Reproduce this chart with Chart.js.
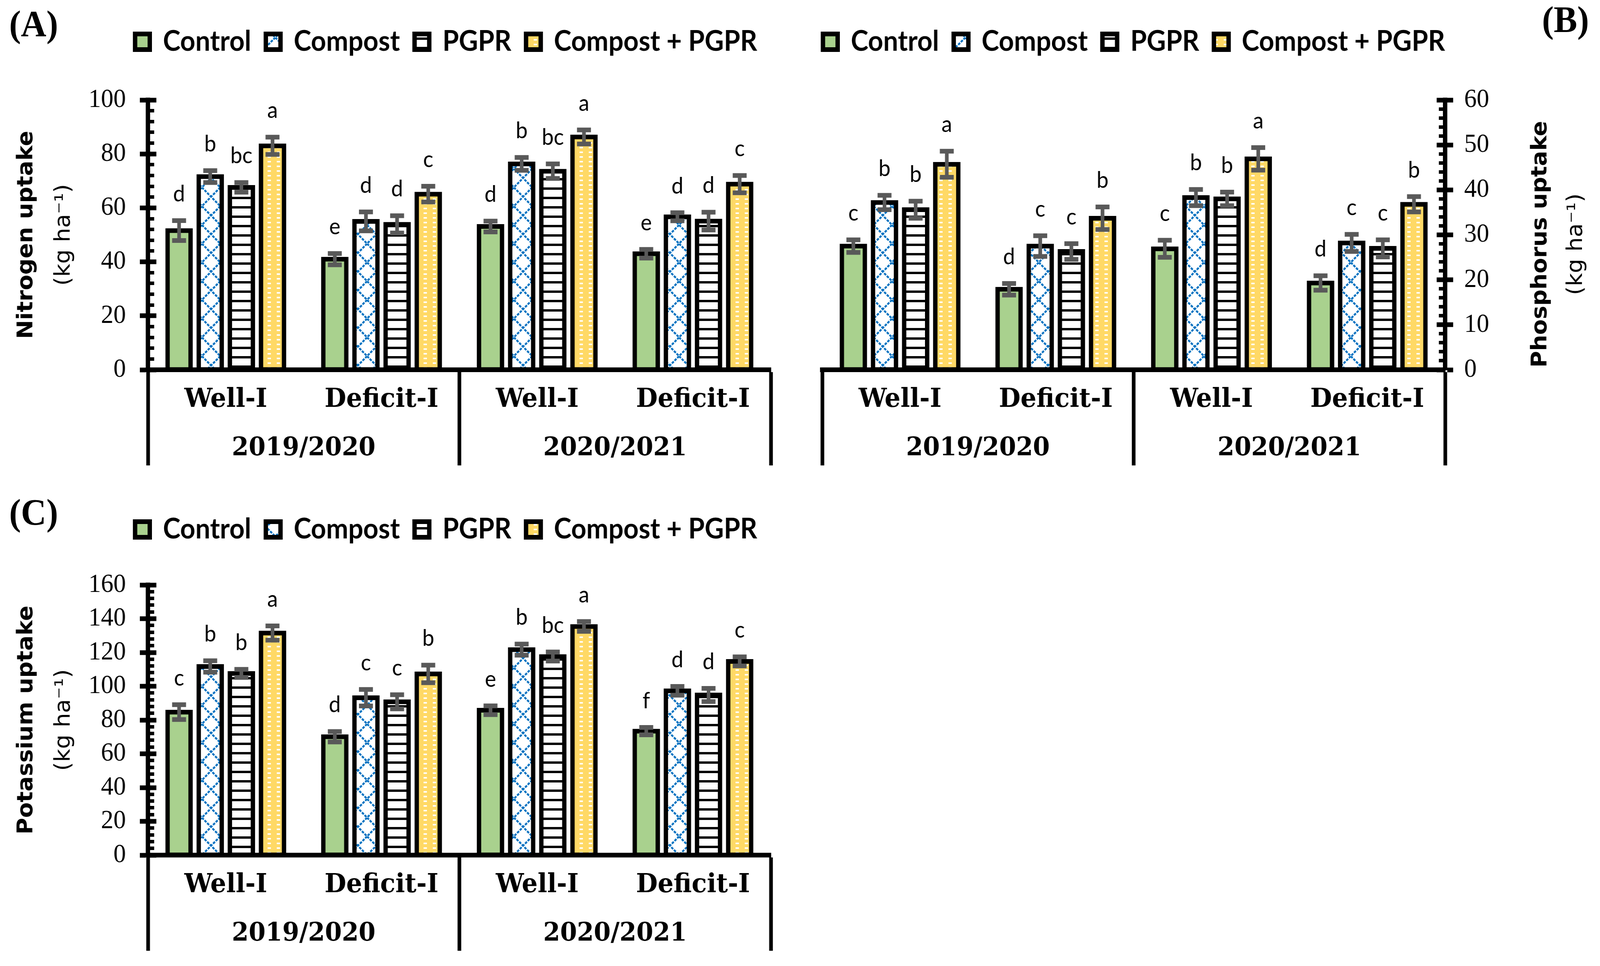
<!DOCTYPE html>
<html>
<head>
<meta charset="utf-8">
<script src="https://cdn.jsdelivr.net/npm/chart.js@4.4.1/dist/chart.umd.min.js"></script>
<style>
  html, body { margin: 0; padding: 0; background: #fff; overflow: hidden; }
  #page { position: absolute; left: 0; top: 0; width: 4359px; height: 2474px; transform-origin: 0 0; }
  canvas { position: absolute; }
  .tag { position: absolute; font-family: 'Liberation Serif', serif; font-weight: bold; font-size: 96px; line-height: 1; color: #000; }
</style>
</head>
<body>
<div id="page">
  <canvas id="chartA" width="2180" height="1230" style="left:0;top:0"></canvas>
  <canvas id="chartB" width="2179" height="1230" style="left:2180px;top:0"></canvas>
  <canvas id="chartC" width="2180" height="1244" style="left:0;top:1230px"></canvas>
  <div class="tag" style="left:25px;top:13px">(A)</div>
  <div class="tag" style="left:4201px;top:2px">(B)</div>
  <div class="tag" style="left:25px;top:1264px">(C)</div>
</div>
<script>
// the figure is laid out on a 4359 x 2474 sheet, then fitted to the window
const page = document.getElementById('page');
page.style.transform = `scale(${window.innerWidth / 4359}, ${window.innerHeight / 2474})`;

const treatments = ['Control', 'Compost', 'PGPR', 'Compost + PGPR'];
const irrigation = ['Well-I', 'Deficit-I', 'Well-I', 'Deficit-I'];
const seasons = ['2019/2020', '2020/2021'];

// rows = treatments, columns = irrigation (2019/2020 Well, Deficit, 2020/2021 Well, Deficit)
const nitrogenMeans = [
  [51.6, 41.0, 53.1, 43.0],
  [71.6, 55.0, 76.3, 56.7],
  [67.6, 53.9, 73.6, 55.1],
  [83.0, 65.1, 86.3, 68.8]
];
const nitrogenErrors = [
  [3.7, 2.1, 2.0, 1.6],
  [2.2, 3.5, 2.4, 1.5],
  [1.8, 3.2, 2.7, 3.3],
  [3.2, 2.9, 2.6, 3.2]
];
const nitrogenLetters = [
  ['d', 'e', 'd', 'e'],
  ['b', 'd', 'b', 'd'],
  ['bc', 'd', 'bc', 'd'],
  ['a', 'c', 'a', 'c']
];

const phosphorusMeans = [
  [27.5, 17.9, 26.9, 19.3],
  [37.2, 27.5, 38.3, 28.2],
  [35.6, 26.3, 38.0, 27.0],
  [45.7, 33.7, 46.9, 36.8]
];
const phosphorusErrors = [
  [1.4, 1.3, 1.9, 1.6],
  [1.6, 2.3, 1.8, 1.9],
  [1.9, 1.75, 1.5, 1.9],
  [2.9, 2.5, 2.5, 1.7]
];
const phosphorusLetters = [
  ['c', 'd', 'c', 'd'],
  ['b', 'c', 'b', 'c'],
  ['b', 'c', 'b', 'c'],
  ['a', 'b', 'a', 'b']
];

const potassiumMeans = [
  [84.7, 70.1, 85.8, 73.4],
  [111.7, 93.2, 121.7, 97.3],
  [107.6, 90.8, 117.6, 94.8],
  [131.5, 107.3, 135.4, 114.7]
];
const potassiumErrors = [
  [4.4, 3.1, 2.6, 2.2],
  [3.4, 4.9, 3.3, 2.6],
  [2.4, 4.2, 2.7, 3.9],
  [4.2, 5.2, 2.9, 2.7]
];
const potassiumLetters = [
  ['c', 'd', 'e', 'f'],
  ['b', 'c', 'b', 'd'],
  ['b', 'c', 'bc', 'd'],
  ['a', 'b', 'a', 'c']
];

// hatch fills
function makePattern(w, h, paint) {
  const c = document.createElement('canvas');
  c.width = w; c.height = h;
  const g = c.getContext('2d');
  paint(g, w, h);
  return g.createPattern(c, 'repeat');
}
const latticeBlue = makePattern(50, 48, (g, w, h) => {
  g.fillStyle = '#fff'; g.fillRect(0, 0, w, h);
  g.strokeStyle = '#0070C0'; g.lineWidth = 5; g.setLineDash([7, 3]);
  g.beginPath();
  g.moveTo(0, 0); g.lineTo(w, h);
  g.moveTo(w, 0); g.lineTo(0, h);
  g.stroke();
});
const stripesBlack = makePattern(8, 24, (g, w, h) => {
  g.fillStyle = '#fff'; g.fillRect(0, 0, w, h);
  g.fillStyle = '#000'; g.fillRect(0, 0, w, 6);
});
const dashesYellow = makePattern(25, 12, (g, w, h) => {
  g.fillStyle = '#FFD966'; g.fillRect(0, 0, w, h);
  g.fillStyle = '#fff'; g.fillRect(4, 4, 9, 4);
});
const fills = ['#A9D18E', latticeBlue, stripesBlack, dashesYellow];

Chart.defaults.font.family = 'Lato';
Chart.defaults.color = '#000';

const tickFont = { family: 'Liberation Serif', size: 68 };
const catFont = { family: 'DejaVu Serif', weight: 'bold', size: 68 };
const yearFont = { family: 'DejaVu Serif', weight: 'bold', size: 66 };
const titleFont = { family: 'DejaVu Sans', weight: 'bold', size: 58, lineHeight: 1 };
const unitFont = { family: 'DejaVu Sans', size: 58, lineHeight: 1 };

// error bars and letters above each bar
const errorBars = {
  id: 'errorBars',
  afterDatasetsDraw(chart) {
    const { ctx } = chart;
    const y = chart.scales.y;
    chart.data.datasets.forEach((ds, i) => {
      chart.getDatasetMeta(i).data.forEach((bar, j) => {
        const v = ds.data[j], e = ds.errors[j];
        const top = y.getPixelForValue(v + e);
        const bot = y.getPixelForValue(v - e);
        ctx.save();
        ctx.strokeStyle = '#595959';
        ctx.lineWidth = 10;
        ctx.beginPath(); ctx.moveTo(bar.x, top); ctx.lineTo(bar.x, bot); ctx.stroke();
        ctx.lineWidth = 12;
        ctx.beginPath();
        ctx.moveTo(bar.x - 19, top); ctx.lineTo(bar.x + 19, top);
        ctx.moveTo(bar.x - 19, bot); ctx.lineTo(bar.x + 19, bot);
        ctx.stroke();
        ctx.fillStyle = '#000';
        ctx.font = '58px Lato';
        ctx.textAlign = 'center';
        ctx.textBaseline = 'alphabetic';
        ctx.fillText(ds.letters[j], bar.x, top - 49);
        ctx.restore();
      });
    });
  }
};

// legend: fixed height below it and fixed start x
const legendPlacement = {
  id: 'legendPlacement',
  beforeLayout(chart, args, opts) {
    const lg = chart.legend;
    if (!lg || lg._patched) return;
    const fit = lg.fit;
    lg.fit = function () { fit.call(this); this.height = opts.height; };
    lg._patched = true;
  },
  afterLayout(chart, args, opts) {
    const lg = chart.legend;
    const dx = opts.x - (lg.left + lg.options.labels.padding);
    lg.left += dx; lg.right += dx;
  }
};

// rotated titles for the right-hand axis (read bottom to top)
const sideTitles = {
  id: 'sideTitles',
  afterDraw(chart, args, opts) {
    if (!opts.items) return;
    const { ctx } = chart;
    const s = chart.scales.y;
    const cy = (chart.chartArea.top + chart.chartArea.bottom) / 2 + opts.dy;
    opts.items.forEach(t => {
      ctx.save();
      ctx.translate(s.right + t.dx, cy);
      ctx.rotate(-Math.PI / 2);
      ctx.font = t.font;
      ctx.fillStyle = '#000';
      ctx.textAlign = 'center';
      ctx.textBaseline = 'middle';
      ctx.fillText(t.text, 0, 0);
      ctx.restore();
    });
  }
};

function panel(id, o) {
  const left = o.side === 'left';
  const edge = left ? -0.5 : irrigation.length - 0.5;
  const sign = left ? -1 : 1;

  const datasets = treatments.map((name, i) => ({
    label: name,
    data: o.means[i],
    errors: o.errors[i],
    letters: o.letters[i],
    backgroundColor: fills[i],
    borderColor: '#000',
    borderWidth: 12,
    borderSkipped: false,
    inflateAmount: 6,
    categoryPercentage: 0.8,
    barPercentage: 0.74,
    xAxisID: 'x',
    yAxisID: 'y'
  }));

  const scales = {
    // irrigation labels; its long tick marks form the season dividers
    x: {
      type: 'category', position: 'bottom', offset: true, weight: 0,
      grid: {
        offset: true, drawOnChartArea: false, tickLength: 245, tickWidth: 10,
        tickColor: c => (c.index === 1 || c.index === 3) ? 'rgba(0,0,0,0)' : '#000'
      },
      border: { color: '#000', width: 12 },
      ticks: { mirror: true, padding: -117.8, color: '#000', font: catFont, autoSkip: false, maxRotation: 0 }
    },
    // season labels
    x2: {
      type: 'category', position: 'bottom', offset: true, weight: 1, labels: seasons,
      grid: { offset: true, drawOnChartArea: false, tickLength: 465, tickColor: 'rgba(0,0,0,0)' },
      border: { display: false },
      ticks: { mirror: true, padding: -232.2, color: '#000', font: yearFont, autoSkip: false, maxRotation: 0 }
    },
    y: {
      type: 'linear', position: o.side, min: 0, max: o.max, weight: 0,
      grid: { drawOnChartArea: false, tickLength: 22, tickWidth: 12, tickColor: '#000' },
      border: { color: '#000', width: 12 },
      ticks: { stepSize: o.step, padding: left ? 38 : 30, color: '#000', font: tickFont },
      title: left
        ? { display: true, text: '(kg ha\u207B\u00B9)', font: unitFont, color: '#000', padding: { top: 0, bottom: 0 } }
        : { display: false }
    },
    yMajor: {
      axis: 'y', type: 'linear', position: { x: edge }, min: 0, max: o.max,
      grid: { drawOnChartArea: false, tickLength: sign * 23, tickWidth: 12, tickColor: '#000' },
      border: { display: false },
      ticks: { display: false, stepSize: o.step }
    },
    yMinor: {
      axis: 'y', type: 'linear', position: { x: edge }, min: 0, max: o.max,
      grid: { drawOnChartArea: false, tickLength: sign * 17, tickWidth: 9, tickColor: '#000' },
      border: { display: false },
      ticks: { display: false, stepSize: o.minor, maxTicksLimit: 200 }
    }
  };
  if (left) {
    scales.yTitle = {
      axis: 'y', type: 'linear', position: 'left', weight: 1, min: 0, max: o.max,
      grid: { display: false, drawTicks: false },
      border: { display: false },
      ticks: { display: false },
      title: { display: true, text: o.title, font: titleFont, color: '#000', padding: { top: 0, bottom: 44 } }
    };
  }

  return new Chart(document.getElementById(id), {
    type: 'bar',
    data: { labels: irrigation, datasets },
    options: {
      responsive: false,
      animation: false,
      devicePixelRatio: 1,
      events: [],
      layout: { padding: o.padding },
      scales,
      plugins: {
        tooltip: { enabled: false },
        legend: {
          display: true, position: 'top', align: 'start',
          labels: {
            boxWidth: 40, boxHeight: 40, padding: 40, color: '#000',
            font: { family: 'Lato', weight: 'bold', size: 72 }
          }
        },
        legendPlacement: { height: o.legendHeight, x: o.legendX },
        sideTitles: o.sideTitles || {}
      }
    },
    plugins: [errorBars, legendPlacement, sideTitles]
  });
}

panel('chartA', {
  means: nitrogenMeans, errors: nitrogenErrors, letters: nitrogenLetters,
  max: 100, step: 20, minor: 4, side: 'left', title: 'Nitrogen uptake',
  padding: { left: 44, right: 80, top: 31, bottom: 273 },
  legendHeight: 225, legendX: 368
});

panel('chartB', {
  means: phosphorusMeans, errors: phosphorusErrors, letters: phosphorusLetters,
  max: 60, step: 10, minor: 2, side: 'right',
  padding: { left: 60, right: 272, top: 31, bottom: 273 },
  legendHeight: 225, legendX: 62,
  sideTitles: {
    dy: 24,
    items: [
      { text: 'Phosphorus uptake', font: 'bold 58px "DejaVu Sans"', dx: 111 },
      { text: '(kg ha\u207B\u00B9)', font: '58px "DejaVu Sans"', dx: 208 }
    ]
  }
});

panel('chartC', {
  means: potassiumMeans, errors: potassiumErrors, letters: potassiumLetters,
  max: 160, step: 20, minor: 4, side: 'left', title: 'Potassium uptake',
  padding: { left: 44, right: 80, top: 50, bottom: 274 },
  legendHeight: 218, legendX: 368
});
</script>
</body>
</html>
